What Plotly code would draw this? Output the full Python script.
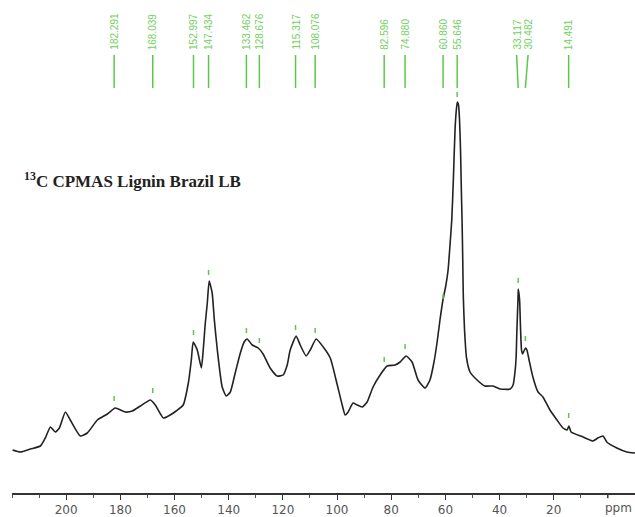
import plotly.graph_objects as go

# Traced spectrum (chemical shift in ppm, intensity in arbitrary units)
ppm = [219.8, 216.9, 213.2, 209.5, 207.7, 205.8, 204.0, 202.5, 200.3, 198.5,
       194.8, 192.2, 188.5, 184.8, 181.9, 178.2, 175.6, 172.6, 168.9, 167.1,
       164.1, 161.6, 159.4, 156.8, 154.9, 153.8, 153.1, 151.6, 150.1, 149.4,
       148.7, 147.9, 147.2, 146.1, 145.3, 144.2, 142.4, 140.9, 139.4, 137.6,
       135.7, 134.3, 133.2, 131.3, 129.1, 127.3, 124.7, 122.1, 119.9, 118.4,
       117.3, 115.1, 113.6, 111.4, 109.9, 107.7, 105.1, 102.5, 100.0, 98.1,
       97.0, 95.9, 94.1, 92.6, 90.7, 88.9, 86.7, 84.1, 81.5, 78.6,
       76.7, 74.5, 72.3, 70.1, 67.5, 65.7, 64.2, 63.1, 62.0, 60.9,
       59.8, 59.0, 58.3, 57.65, 57.06, 56.44, 55.96, 55.59, 55.15, 54.78,
       54.41, 54.11, 53.85, 53.59, 53.38, 52.93, 52.19, 50.9, 48.3, 45.4,
       42.4, 39.8, 36.1, 35.0, 34.3, 33.9, 33.6, 33.2, 33.1, 32.6,
       32.3, 31.9, 31.5, 31.0, 30.4, 29.9, 29.1, 27.7, 25.8, 24.0,
       21.4, 18.8, 16.6, 15.1, 14.4, 13.6, 9.2, 5.5, 3.7, 1.8,
       0.4, -3.3, -7.0, -10.0]
intensity = [5, 3, 6, 9, 17, 28, 23, 27, 43, 35,
             19, 22, 35, 41, 47, 43, 44, 49, 55, 50,
             37, 40, 44, 50, 72, 95, 113, 105, 87, 105,
             130, 152, 174, 162, 135, 105, 68, 59, 63, 82,
             102, 113, 116, 110, 107, 101, 87, 79, 80, 90,
             105, 119, 110, 99, 105, 116, 108, 97, 71, 50,
             40, 43, 52, 50, 48, 53, 68, 80, 89, 90,
             93, 99, 93, 75, 67, 75, 93, 112, 135, 155,
             170, 185, 210, 235, 275, 325, 345, 353, 350, 335,
             305, 265, 235, 195, 158, 125, 97, 83, 75, 69,
             69, 66, 66, 70, 83, 97, 125, 155, 166, 155,
             130, 105, 101, 104, 107, 105, 95, 78, 63, 58,
             45, 35, 27, 25, 29, 23, 18, 14, 17, 19,
             13, 7, 3, 2]

# Peak picking list
peak_ppm = [182.291, 168.039, 152.997, 147.434, 133.462, 128.676, 115.317,
            108.076, 82.596, 74.880, 60.860, 55.646, 33.117, 30.482, 14.491]
peak_labels = ["182.291", "168.039", "152.997", "147.434", "133.462", "128.676",
               "115.317", "108.076", "82.596", "74.880", "60.860", "55.646",
               "33.117", "30.482", "14.491"]
peak_height = [56, 64, 122, 182, 124, 114, 127, 124, 95, 108, 158, 360, 174, 116, 39]

tick_vals = [200, 180, 160, 140, 120, 100, 80, 60, 40, 20]
tick_text = ["200", "180", "160", "140", "120", "100", "80", "60", "40", "20"]
axis_unit = "ppm"

GREEN = "#5cc84a"
TXTGREEN = "#72cf60"

fig = go.Figure()
fig.add_trace(go.Scatter(x=ppm, y=intensity, mode="lines",
                         line=dict(color="#222222", width=1.6, shape="spline", smoothing=0.5),
                         hoverinfo="skip", showlegend=False))

shapes = []
annotations = []
# label spreading for crowded pair
label_shift = {"33.117": 0.6, "30.482": -1.0}
for p, lab, h in zip(peak_ppm, peak_labels, peak_height):
    lp = p + label_shift.get(lab, 0.0)
    shapes.append(dict(type="line", xref="x", yref="y", x0=lp, x1=p, y0=400, y1=367,
                       line=dict(color=GREEN, width=1.5)))
    shapes.append(dict(type="line", xref="x", yref="y", x0=p, x1=p, y0=h - 2, y1=h + 3,
                       line=dict(color=GREEN, width=1.5)))
    annotations.append(dict(x=lp, y=403, xref="x", yref="y", text=lab, textangle=-90,
                            showarrow=False, xanchor="center", yanchor="bottom",
                            font=dict(family="Liberation Sans", size=10, color=TXTGREEN)))

# major tick at the unit position (label replaced by unit text)
shapes.append(dict(type="line", xref="x", yref="paper", x0=0, x1=0, y0=0, y1=-0.0105,
                   line=dict(color="#333333", width=1.2)))

annotations.append(dict(x=0.016, y=0.635, xref="paper", yref="paper",
                        text="<b><sup>13</sup>C CPMAS Lignin Brazil LB</b>", showarrow=False,
                        xanchor="left", yanchor="middle",
                        font=dict(family="Liberation Serif", size=17, color="#222222")))
annotations.append(dict(x=1, y=0, xref="paper", yref="paper", text=axis_unit, showarrow=False,
                        xanchor="right", yanchor="top", yshift=-6, xshift=-1,
                        font=dict(family="DejaVu Sans", size=12, color="#555555")))

fig.update_layout(
    width=635, height=517,
    margin=dict(l=12, r=0, t=0, b=24),
    paper_bgcolor="white", plot_bgcolor="white",
    shapes=shapes, annotations=annotations,
    xaxis=dict(range=[220, -10], showgrid=False, zeroline=False,
               showline=True, linecolor="#333333", linewidth=1.5,
               tickmode="array", tickvals=tick_vals, ticktext=tick_text,
               ticks="outside", ticklen=5, tickwidth=1.2, tickcolor="#333333",
               minor=dict(dtick=10, ticks="outside", ticklen=3, tickcolor="#555555", tickwidth=1),
               tickfont=dict(family="DejaVu Sans", size=12, color="#555555")),
    yaxis=dict(range=[-38, 455], visible=False, showgrid=False, zeroline=False),
)

fig.write_html("out.html")
